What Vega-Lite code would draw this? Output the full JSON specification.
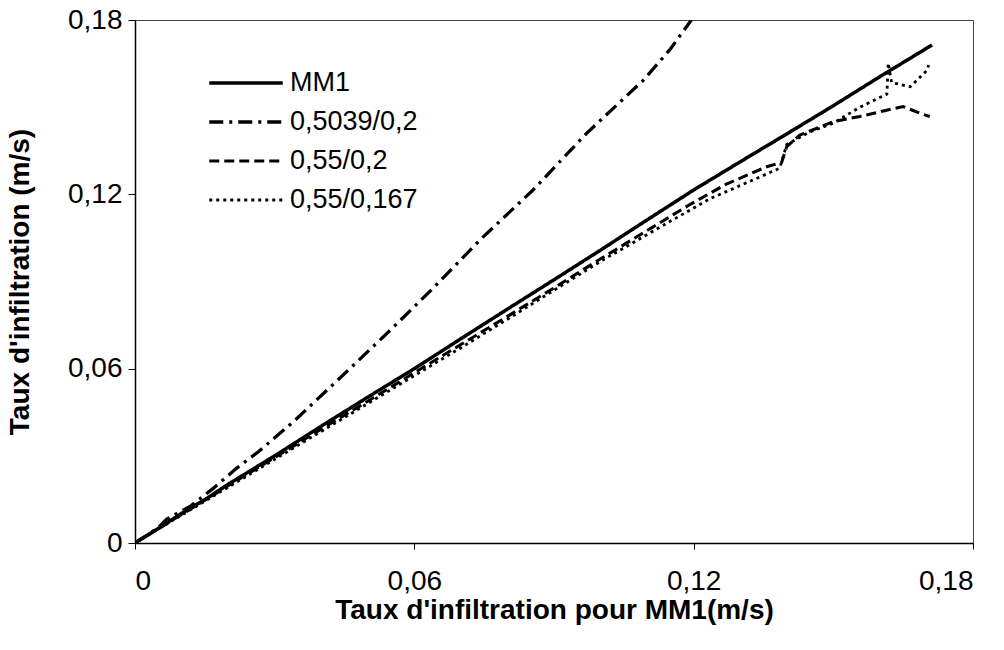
{
  "$schema": "https://vega.github.io/schema/vega-lite/v6.json",
  "width": 838,
  "height": 523,
  "autosize": "none",
  "padding": {"left": 135, "top": 20, "right": 31, "bottom": 107},
  "background": "white",
  "config": {
    "font": "Liberation Sans",
    "view": {"stroke": "#444", "strokeWidth": 1},
    "axis": {"grid": false, "domainColor": "#000", "domainWidth": 1.5, "tickColor": "#000", "tickWidth": 1, "labelColor": "#000", "titleColor": "#000", "labelFont": "Liberation Sans", "titleFont": "Liberation Sans", "labelFontSize": 28, "titleFontSize": 28, "titleFontWeight": "bold"}
  },
  "data": {"values": [
    {"s":"MM1","i":0,"x":0,"y":0},
    {"s":"MM1","i":1,"x":0.005,"y":0.005},
    {"s":"MM1","i":2,"x":0.01,"y":0.0102},
    {"s":"MM1","i":3,"x":0.015,"y":0.0149},
    {"s":"MM1","i":4,"x":0.02,"y":0.0202},
    {"s":"MM1","i":5,"x":0.03,"y":0.03},
    {"s":"MM1","i":6,"x":0.04,"y":0.0402},
    {"s":"MM1","i":7,"x":0.05,"y":0.0502},
    {"s":"MM1","i":8,"x":0.06,"y":0.06},
    {"s":"MM1","i":9,"x":0.07,"y":0.0703},
    {"s":"MM1","i":10,"x":0.08,"y":0.0805},
    {"s":"MM1","i":11,"x":0.09,"y":0.0906},
    {"s":"MM1","i":12,"x":0.1,"y":0.1008},
    {"s":"MM1","i":13,"x":0.11,"y":0.1112},
    {"s":"MM1","i":14,"x":0.12,"y":0.1215},
    {"s":"MM1","i":15,"x":0.13,"y":0.1312},
    {"s":"MM1","i":16,"x":0.14,"y":0.1408},
    {"s":"MM1","i":17,"x":0.15,"y":0.1505},
    {"s":"MM1","i":18,"x":0.16,"y":0.1605},
    {"s":"MM1","i":19,"x":0.1712,"y":0.1714},

    {"s":"0,5039/0,2","i":0,"x":0,"y":0},
    {"s":"0,5039/0,2","i":1,"x":0.005,"y":0.0053},
    {"s":"0,5039/0,2","i":2,"x":0.0068,"y":0.0082},
    {"s":"0,5039/0,2","i":3,"x":0.012,"y":0.0128},
    {"s":"0,5039/0,2","i":4,"x":0.0168,"y":0.0188},
    {"s":"0,5039/0,2","i":5,"x":0.0218,"y":0.0257},
    {"s":"0,5039/0,2","i":6,"x":0.0265,"y":0.0314},
    {"s":"0,5039/0,2","i":7,"x":0.034,"y":0.0417},
    {"s":"0,5039/0,2","i":8,"x":0.0447,"y":0.0578},
    {"s":"0,5039/0,2","i":9,"x":0.055,"y":0.0735},
    {"s":"0,5039/0,2","i":10,"x":0.0641,"y":0.0878},
    {"s":"0,5039/0,2","i":11,"x":0.0741,"y":0.1043},
    {"s":"0,5039/0,2","i":12,"x":0.0855,"y":0.1215},
    {"s":"0,5039/0,2","i":13,"x":0.097,"y":0.141},
    {"s":"0,5039/0,2","i":14,"x":0.1092,"y":0.1593},
    {"s":"0,5039/0,2","i":15,"x":0.115,"y":0.17},
    {"s":"0,5039/0,2","i":16,"x":0.1195,"y":0.18},

    {"s":"0,55/0,2","i":0,"x":0,"y":0},
    {"s":"0,55/0,2","i":1,"x":0.005,"y":0.0049},
    {"s":"0,55/0,2","i":2,"x":0.01,"y":0.0098},
    {"s":"0,55/0,2","i":3,"x":0.02,"y":0.0197},
    {"s":"0,55/0,2","i":4,"x":0.03,"y":0.0294},
    {"s":"0,55/0,2","i":5,"x":0.04,"y":0.0392},
    {"s":"0,55/0,2","i":6,"x":0.05,"y":0.0488},
    {"s":"0,55/0,2","i":7,"x":0.06,"y":0.0586},
    {"s":"0,55/0,2","i":8,"x":0.07,"y":0.0683},
    {"s":"0,55/0,2","i":9,"x":0.08,"y":0.078},
    {"s":"0,55/0,2","i":10,"x":0.09,"y":0.0878},
    {"s":"0,55/0,2","i":11,"x":0.1,"y":0.0978},
    {"s":"0,55/0,2","i":12,"x":0.1113,"y":0.1088},
    {"s":"0,55/0,2","i":13,"x":0.1192,"y":0.1165},
    {"s":"0,55/0,2","i":14,"x":0.127,"y":0.1235},
    {"s":"0,55/0,2","i":15,"x":0.1357,"y":0.1295},
    {"s":"0,55/0,2","i":16,"x":0.1389,"y":0.131},
    {"s":"0,55/0,2","i":17,"x":0.14,"y":0.1364},
    {"s":"0,55/0,2","i":18,"x":0.1428,"y":0.1404},
    {"s":"0,55/0,2","i":19,"x":0.15,"y":0.145},
    {"s":"0,55/0,2","i":20,"x":0.1557,"y":0.1468},
    {"s":"0,55/0,2","i":21,"x":0.161,"y":0.1488},
    {"s":"0,55/0,2","i":22,"x":0.165,"y":0.1502},
    {"s":"0,55/0,2","i":23,"x":0.1693,"y":0.1475},
    {"s":"0,55/0,2","i":24,"x":0.1707,"y":0.1468},

    {"s":"0,55/0,167","i":0,"x":0,"y":0},
    {"s":"0,55/0,167","i":1,"x":0.005,"y":0.0048},
    {"s":"0,55/0,167","i":2,"x":0.01,"y":0.0096},
    {"s":"0,55/0,167","i":3,"x":0.02,"y":0.0192},
    {"s":"0,55/0,167","i":4,"x":0.03,"y":0.0288},
    {"s":"0,55/0,167","i":5,"x":0.04,"y":0.0384},
    {"s":"0,55/0,167","i":6,"x":0.05,"y":0.048},
    {"s":"0,55/0,167","i":7,"x":0.06,"y":0.0576},
    {"s":"0,55/0,167","i":8,"x":0.07,"y":0.0672},
    {"s":"0,55/0,167","i":9,"x":0.08,"y":0.077},
    {"s":"0,55/0,167","i":10,"x":0.09,"y":0.087},
    {"s":"0,55/0,167","i":11,"x":0.1006,"y":0.0975},
    {"s":"0,55/0,167","i":12,"x":0.112,"y":0.108},
    {"s":"0,55/0,167","i":13,"x":0.1235,"y":0.1185},
    {"s":"0,55/0,167","i":14,"x":0.1314,"y":0.124},
    {"s":"0,55/0,167","i":15,"x":0.1385,"y":0.129},
    {"s":"0,55/0,167","i":16,"x":0.14,"y":0.1372},
    {"s":"0,55/0,167","i":17,"x":0.145,"y":0.1415},
    {"s":"0,55/0,167","i":18,"x":0.15,"y":0.1445},
    {"s":"0,55/0,167","i":19,"x":0.1557,"y":0.15},
    {"s":"0,55/0,167","i":20,"x":0.1615,"y":0.1545},
    {"s":"0,55/0,167","i":21,"x":0.1618,"y":0.1652},
    {"s":"0,55/0,167","i":22,"x":0.1625,"y":0.1585},
    {"s":"0,55/0,167","i":23,"x":0.1665,"y":0.157},
    {"s":"0,55/0,167","i":24,"x":0.17,"y":0.1625},
    {"s":"0,55/0,167","i":25,"x":0.1705,"y":0.1645}
  ]},
  "mark": {"type": "line", "clip": true, "color": "#000"},
  "encoding": {
    "x": {"field": "x", "type": "quantitative", "scale": {"domain": [0, 0.18], "nice": false, "zero": true},
      "axis": {"values": [0, 0.06, 0.12, 0.18], "title": "Taux d'infiltration pour MM1(m/s)", "labelExpr": "datum.value == 0 ? '0' : replace(format(datum.value, '.2f'), '.', ',')", "tickSize": 6, "labelPadding": 18, "titleY": 67, "titleBaseline": "middle"}},
    "y": {"field": "y", "type": "quantitative", "scale": {"domain": [0, 0.18], "nice": false, "zero": true},
      "axis": {"values": [0, 0.06, 0.12, 0.18], "title": "Taux d'infiltration (m/s)", "labelExpr": "datum.value == 0 ? '0' : replace(format(datum.value, '.2f'), '.', ',')", "tickSize": 7, "labelPadding": 6, "titleX": -115, "titleBaseline": "middle"}},
    "order": {"field": "i", "type": "quantitative"},
    "strokeDash": {"field": "s", "type": "nominal",
      "scale": {"domain": ["MM1", "0,5039/0,2", "0,55/0,2", "0,55/0,167"], "range": [[1, 0], [14, 6, 3, 6], [10, 5], [3, 4]]},
      "legend": {"title": null, "orient": "none", "legendX": 97, "legendY": 49, "padding": 0, "symbolType": "M-3,0H3", "symbolSize": 600, "labelFontSize": 27, "labelFont": "Liberation Sans", "labelColor": "#000", "labelOffset": 30, "rowPadding": 12, "symbolStrokeColor": "#000"}},
    "strokeWidth": {"field": "s", "type": "nominal",
      "scale": {"domain": ["MM1", "0,5039/0,2", "0,55/0,2", "0,55/0,167"], "range": [3.5, 2.8, 2, 2]},
      "legend": {"title": null, "orient": "none", "legendX": 97, "legendY": 49, "padding": 0, "symbolType": "M-3,0H3", "symbolSize": 600, "labelFontSize": 27, "labelFont": "Liberation Sans", "labelColor": "#000", "labelOffset": 30, "rowPadding": 12, "symbolStrokeColor": "#000"}}
  }
}
